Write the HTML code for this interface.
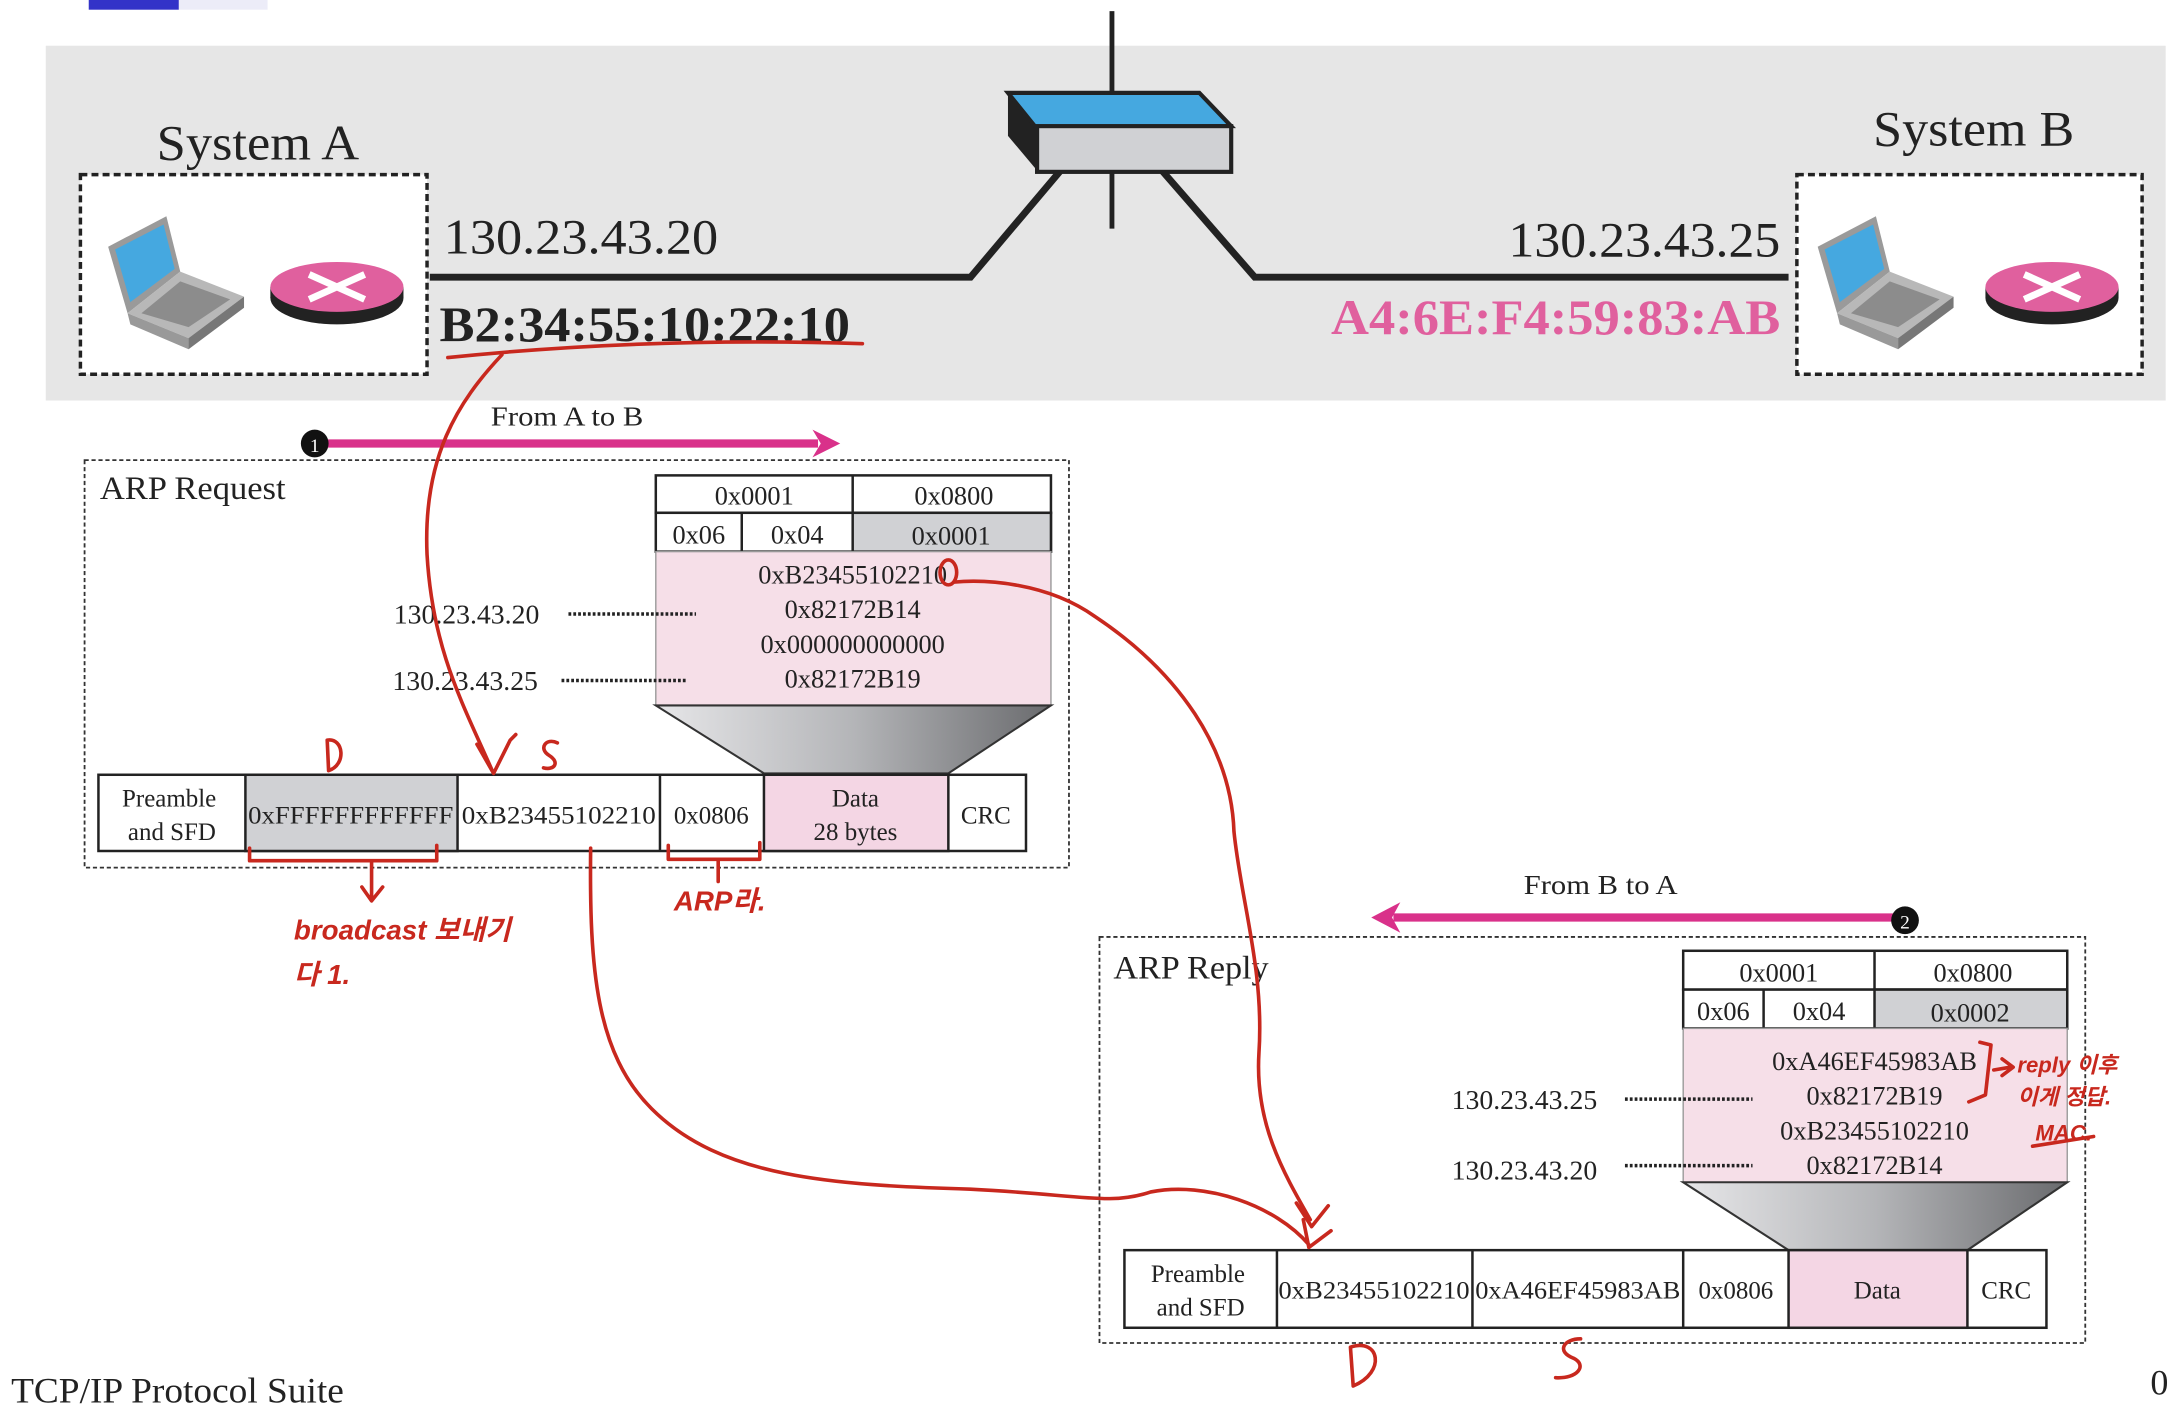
<!DOCTYPE html>
<html><head><meta charset="utf-8"><style>
html,body{margin:0;padding:0;background:#fff;width:2174px;height:1404px;overflow:hidden}
svg{display:block}
text{font-family:"Liberation Serif","Noto Serif CJK SC",serif;fill:#222}
.r{fill:none;stroke:#c8281e;stroke-width:2.6;stroke-linecap:round;stroke-linejoin:round}
.rt{fill:#c8281e;font-family:"Liberation Sans","Noto Sans CJK KR",sans-serif;font-weight:bold;font-style:italic}
</style></head><body>
<svg width="2174" height="1404" viewBox="0 0 1568 1013" preserveAspectRatio="none" xmlns="http://www.w3.org/2000/svg">
<defs>
<linearGradient id="fg" x1="0" x2="1"><stop offset="0" stop-color="#e6e6e8"/><stop offset="0.5" stop-color="#b4b5b8"/><stop offset="1" stop-color="#6a6b6e"/></linearGradient>
<g id="laptop">
 <polygon points="0,22 42,0 52,40 14,70" fill="#9a9a9a"/>
 <polygon points="5,24 40,6 48,38 16,62" fill="#45a8e0"/>
 <polygon points="14,70 52,40 98,58 58,88" fill="#b8b8b8"/>
 <polygon points="24,70 52,47 88,60 58,80" fill="#8c8c8c"/>
 <polygon points="14,70 58,88 58,96 16,78" fill="#999"/>
 <polygon points="58,88 98,58 98,66 58,96" fill="#777"/>
</g>
<g id="router">
 <ellipse cx="0" cy="8" rx="48" ry="19" fill="#222"/>
 <rect x="-48" y="0" width="96" height="8" fill="#222"/>
 <ellipse cx="0" cy="0" rx="48" ry="18" fill="#e0609e"/>
 <path d="M-20,-9 L20,9 M-20,9 L20,-9" stroke="#fff" stroke-width="5"/>
</g>
</defs>
<rect x="64" y="0" width="65" height="7" fill="#3333c8"/>
<rect x="129" y="0" width="64" height="7" fill="#ececf8"/>
<rect x="33" y="33" width="1529" height="256" fill="#e6e6e6"/>
<rect x="58" y="126" width="250" height="144" fill="#fff" stroke="#222" stroke-width="2.5" stroke-dasharray="5,3"/>
<rect x="1296" y="126" width="249" height="144" fill="#fff" stroke="#222" stroke-width="2.5" stroke-dasharray="5,3"/>
<text x="113" y="115" font-size="36" textLength="146" lengthAdjust="spacingAndGlyphs">System A</text>
<text x="1351" y="105" font-size="36" textLength="145" lengthAdjust="spacingAndGlyphs">System B</text>
<use href="#laptop" x="78" y="156"/>
<use href="#router" x="243" y="207"/>
<use href="#laptop" x="1311" y="156"/>
<use href="#router" x="1480" y="207"/>
<line x1="802" y1="8" x2="802" y2="165" stroke="#222" stroke-width="3.5"/>
<polyline points="310,200 700,200 765,123" fill="none" stroke="#222" stroke-width="5"/>
<polyline points="838,123 905,200 1290,200" fill="none" stroke="#222" stroke-width="5"/>
<polygon points="727,67 748,93 748,123 727,98" fill="#222"/>
<polygon points="727,67 865,67 888,91 748,93" fill="#45a8e0" stroke="#222" stroke-width="3"/>
<rect x="748" y="91" width="140" height="33" fill="#d0d1d4" stroke="#222" stroke-width="3"/>
<text x="320" y="183" font-size="36" textLength="198" lengthAdjust="spacingAndGlyphs">130.23.43.20</text>
<text x="1088" y="185" font-size="36" textLength="196" lengthAdjust="spacingAndGlyphs">130.23.43.25</text>
<text x="317" y="246" font-size="36" font-weight="bold" textLength="296" lengthAdjust="spacingAndGlyphs">B2:34:55:10:22:10</text>
<text x="960" y="241" font-size="36" font-weight="bold" style="fill:#e0609e" textLength="324" lengthAdjust="spacingAndGlyphs">A4:6E:F4:59:83:AB</text>
<text x="354" y="307" font-size="20" textLength="110" lengthAdjust="spacingAndGlyphs">From A to B</text>
<line x1="228" y1="320" x2="590" y2="320" stroke="#d9318a" stroke-width="6"/>
<polygon points="586,310 606,320 586,330 592,320" fill="#d9318a"/>
<circle cx="227" cy="320" r="10" fill="#111"/>
<text x="227" y="326" font-size="14" text-anchor="middle" style="fill:#fff">1</text>
<rect x="61" y="332" width="710" height="294" fill="none" stroke="#333" stroke-width="1.3" stroke-dasharray="3,2"/>
<text x="72" y="360" font-size="24" textLength="134" lengthAdjust="spacingAndGlyphs">ARP Request</text>
<g stroke="#222" stroke-width="1.8">
<rect x="473" y="343" width="285" height="27" fill="#fff"/>
<line x1="615" y1="343" x2="615" y2="398"/>
<rect x="473" y="370" width="285" height="28" fill="#fff"/>
<rect x="615" y="370" width="143" height="28" fill="#d0d1d4"/>
<line x1="535" y1="370" x2="535" y2="398"/>
<rect x="473" y="398" width="285" height="111" fill="#f6dfe8" stroke="#999" stroke-width="1"/>
</g>
<polygon points="473,509 758,509 684,558 551,558" fill="url(#fg)" stroke="#333" stroke-width="1.5"/>
<g font-size="19" text-anchor="middle">
<text x="544" y="364">0x0001</text><text x="688" y="364">0x0800</text>
<text x="504" y="392">0x06</text><text x="575" y="392">0x04</text><text x="686" y="393">0x0001</text>
<text x="615" y="421">0xB23455102210</text><text x="615" y="446">0x82172B14</text>
<text x="615" y="471">0x000000000000</text><text x="615" y="496">0x82172B19</text>
</g>
<text x="284" y="450" font-size="20">130.23.43.20</text>
<line x1="410" y1="443" x2="502" y2="443" stroke="#222" stroke-width="2.5" stroke-dasharray="2,1.5"/>
<text x="283" y="498" font-size="20">130.23.43.25</text>
<line x1="405" y1="491" x2="496" y2="491" stroke="#222" stroke-width="2.5" stroke-dasharray="2,1.5"/>
<g stroke="#222" stroke-width="1.8">
<rect x="71" y="559" width="669" height="55" fill="#fff"/>
<rect x="177" y="559" width="153" height="55" fill="#d0d1d4"/>
<rect x="551" y="559" width="133" height="55" fill="#f4d6e4"/>
<line x1="476" y1="559" x2="476" y2="614"/>
</g>
<g font-size="18" text-anchor="middle">
<text x="122" y="582">Preamble</text><text x="124" y="606">and SFD</text>
<text x="253" y="594" textLength="148" lengthAdjust="spacingAndGlyphs">0xFFFFFFFFFFFF</text>
<text x="403" y="594" textLength="140" lengthAdjust="spacingAndGlyphs">0xB23455102210</text>
<text x="513" y="594">0x0806</text>
<text x="617" y="582">Data</text><text x="617" y="606">28 bytes</text>
<text x="711" y="594">CRC</text>
</g>
<text x="1099" y="645" font-size="20" textLength="111" lengthAdjust="spacingAndGlyphs">From B to A</text>
<line x1="1005" y1="662" x2="1372" y2="662" stroke="#d9318a" stroke-width="6"/>
<polygon points="1010,651 989,662 1010,673 1004,662" fill="#d9318a"/>
<circle cx="1374" cy="664" r="10" fill="#111"/>
<text x="1374" y="670" font-size="14" text-anchor="middle" style="fill:#fff">2</text>
<rect x="793" y="676" width="711" height="293" fill="none" stroke="#333" stroke-width="1.3" stroke-dasharray="3,2"/>
<text x="803" y="706" font-size="24" textLength="112" lengthAdjust="spacingAndGlyphs">ARP Reply</text>
<g stroke="#222" stroke-width="1.8">
<rect x="1214" y="686" width="277" height="28" fill="#fff"/>
<line x1="1352" y1="686" x2="1352" y2="742"/>
<rect x="1214" y="714" width="277" height="28" fill="#fff"/>
<rect x="1352" y="714" width="139" height="28" fill="#d0d1d4"/>
<line x1="1272" y1="714" x2="1272" y2="742"/>
<rect x="1214" y="742" width="277" height="111" fill="#f6dfe8" stroke="#999" stroke-width="1"/>
</g>
<polygon points="1214,853 1491,853 1419,902 1290,902" fill="url(#fg)" stroke="#333" stroke-width="1.5"/>
<g font-size="19" text-anchor="middle">
<text x="1283" y="708">0x0001</text><text x="1423" y="708">0x0800</text>
<text x="1243" y="736">0x06</text><text x="1312" y="736">0x04</text><text x="1421" y="737">0x0002</text>
<text x="1352" y="772">0xA46EF45983AB</text><text x="1352" y="797">0x82172B19</text>
<text x="1352" y="822">0xB23455102210</text><text x="1352" y="847">0x82172B14</text>
</g>
<text x="1047" y="800" font-size="20">130.23.43.25</text>
<line x1="1172" y1="793" x2="1264" y2="793" stroke="#222" stroke-width="2.5" stroke-dasharray="2,1.5"/>
<text x="1047" y="851" font-size="20">130.23.43.20</text>
<line x1="1172" y1="841" x2="1264" y2="841" stroke="#222" stroke-width="2.5" stroke-dasharray="2,1.5"/>
<g stroke="#222" stroke-width="1.8">
<rect x="811" y="902" width="665" height="56" fill="#fff"/>
<rect x="1290" y="902" width="129" height="56" fill="#f4d6e4"/>
<line x1="921" y1="902" x2="921" y2="958"/><line x1="1062" y1="902" x2="1062" y2="958"/><line x1="1214" y1="902" x2="1214" y2="958"/>
</g>
<g font-size="18" text-anchor="middle">
<text x="864" y="925">Preamble</text><text x="866" y="949">and SFD</text>
<text x="991" y="937" textLength="138" lengthAdjust="spacingAndGlyphs">0xB23455102210</text>
<text x="1138" y="937" textLength="148" lengthAdjust="spacingAndGlyphs">0xA46EF45983AB</text>
<text x="1252" y="937">0x0806</text>
<text x="1354" y="937">Data</text>
<text x="1447" y="937">CRC</text>
</g>
<text x="8" y="1012" font-size="26" textLength="240" lengthAdjust="spacingAndGlyphs">TCP/IP Protocol Suite</text>
<text x="1551" y="1006" font-size="26">0</text>
<path class="r" d="M323,258 C400,250 500,244 622,248"/>
<path class="r" d="M362,256 C330,290 305,330 308,400 C312,470 335,510 355,556"/>
<path class="r" d="M344,537 L356,558 L368,534 L372,530"/>
<path class="r" d="M402,536 C394,532 388,540 396,545 C404,550 400,556 392,554"/>
<path class="r" d="M237,556 L236,534 C248,532 250,552 237,556"/>
<path class="r" d="M180,612 L180,621 L315,621 L315,610 M268,621 L268,648 M261,640 L268,650 L276,640"/>
<path class="r" d="M482,610 L482,620 L548,620 L548,608 M518,620 L518,636"/>
<text class="rt" x="486" y="657" font-size="20">ARP라.</text>
<text class="rt" x="212" y="678" font-size="20">broadcast 보내기</text>
<text class="rt" x="212" y="710" font-size="20">다 1.</text>
<ellipse class="r" cx="684" cy="413" rx="6" ry="9"/>
<path class="r" d="M688,420 C710,418 755,420 790,445 C850,485 888,540 890,600 C895,650 912,700 908,760 C905,810 925,845 945,880 M935,868 L946,885 L958,870"/>
<path class="r" d="M426,612 C425,700 430,760 470,800 C520,850 600,855 700,858 C780,862 800,870 830,860 C870,852 920,870 944,898 M940,880 L944,900 L960,888"/>
<path class="r" d="M1428,752 L1436,754 L1432,790 L1420,795"/>
<path class="r" d="M1438,772 L1450,770 M1444,764 L1452,770 L1444,776"/>
<text class="rt" x="1455" y="774" font-size="16">reply 이후</text>
<text class="rt" x="1455" y="797" font-size="16">이게 정답.</text>
<text class="rt" x="1468" y="823" font-size="16">MAC.</text>
<path class="r" d="M1466,827 L1510,820"/>
<path class="r" d="M976,1000 L974,972 C995,965 1000,990 976,1000"/>
<path class="r" d="M1140,966 C1128,966 1122,975 1135,980 C1145,985 1138,995 1122,994"/>
</svg>
</body></html>
